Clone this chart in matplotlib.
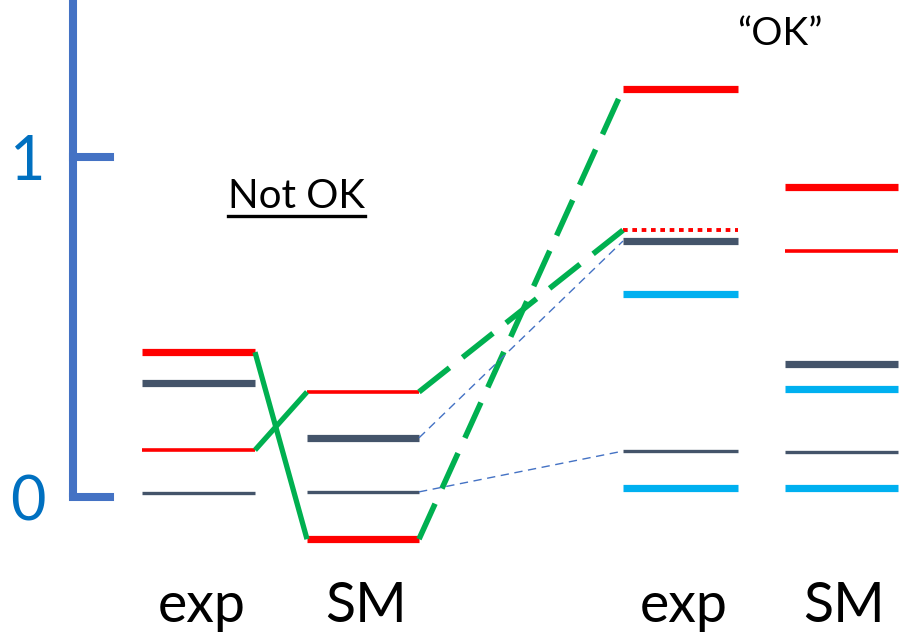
import matplotlib
matplotlib.use("Agg")
import matplotlib.pyplot as plt
from matplotlib.lines import Line2D

plt.rcParams['font.family'] = ['Lato', 'DejaVu Sans']

# level energies for each column (same unit as the axis: 0 and 1)
exp_a = [0.426, 0.335, 0.138, 0.012]
kind_exp_a = ['red_thick', 'grey_thick', 'red_thin', 'grey_thin']
sm_a = [0.309, 0.174, 0.015, -0.124]
kind_sm_a = ['red_thin', 'grey_thick', 'grey_thin', 'red_thick']
exp_b = [1.200, 0.785, 0.753, 0.597, 0.135, 0.026]
kind_exp_b = ['red_thick', 'red_dot', 'grey_thick', 'cyan', 'grey_thin', 'cyan']
sm_b = [0.912, 0.724, 0.391, 0.318, 0.132, 0.026]
kind_sm_b = ['red_thick', 'red_thin', 'grey_thick', 'cyan', 'grey_thin', 'cyan']

col_names = ['exp', 'SM', 'exp', 'SM']
col_levels = [exp_a, sm_a, exp_b, sm_b]
col_kinds = [kind_exp_a, kind_sm_a, kind_exp_b, kind_sm_b]
col_span = [(142, 255), (307, 419), (623, 738), (785, 898)]

# links: (column, level, column, level, style)
links = [
    (0, 0, 1, 3, 'green'),
    (0, 2, 1, 0, 'green'),
    (1, 0, 2, 1, 'green_dash'),
    (1, 3, 2, 0, 'green_dash'),
    (1, 1, 2, 2, 'blue_dash'),
    (1, 2, 2, 4, 'blue_dash'),
]

ticks = [0, 1]

RED, GREY, CYAN = '#FF0000', '#44546A', '#00B0F0'
GREEN, BLUE, TXTBLUE = '#00B050', '#4472C4', '#0070C0'
styles = {
    'red_thick': dict(color=RED, lw=5.2),
    'red_thin': dict(color=RED, lw=2.6),
    'red_dot': dict(color=RED, lw=2.8, dashes=(1.2, 1.2)),
    'grey_thick': dict(color=GREY, lw=5.2),
    'grey_thin': dict(color=GREY, lw=2.4),
    'cyan': dict(color=CYAN, lw=5.2),
    'green': dict(color=GREEN, lw=3.8),
    'green_dash': dict(color=GREEN, lw=4.0, dashes=(7.0, 3.0)),
    'blue_dash': dict(color=BLUE, lw=1.0, dashes=(6, 4)),
}

fig = plt.figure(figsize=(9.05, 6.35), dpi=100)
ax = fig.add_axes([0, 0, 1, 1])
ax.set_xlim(0, 905)
ax.set_ylim(-0.406, 1.462)
ax.axis('off')

# energy axis with its two ticks
ax.plot([73, 73], [1.462, 0], color=BLUE, lw=5.8, solid_capstyle='butt')
for t in ticks:
    ax.plot([73, 110], [t, t], color=BLUE, lw=5.8, solid_capstyle='projecting')
    ax.annotate(str(t), (28, t), xytext=(0, -4), textcoords='offset points',
                ha='center', va='center', fontsize=44, color=TXTBLUE)

# level bars
for (x0, x1), levels, kinds, name in zip(col_span, col_levels, col_kinds, col_names):
    for e, k in zip(levels, kinds):
        ax.plot([x0, x1], [e, e], solid_capstyle='butt', dash_capstyle='butt', **styles[k])
    ax.text((x0 + x1) / 2 + 3, -0.368, name, ha='center', va='baseline', fontsize=40)

# correspondence lines between columns
for c0, i0, c1, i1, s in links:
    xa = col_span[c0][1]
    xb = col_span[c1][0]
    ax.plot([xa, xb], [col_levels[c0][i0], col_levels[c1][i1]],
            solid_capstyle='butt', dash_capstyle='butt', **styles[s])

not_ok = ax.text(296, 0.85, 'Not OK', ha='center', va='baseline', fontsize=29)
ax.text(780, 1.329, '\u201cOK\u201d', ha='center', va='baseline', fontsize=28)

# underline under "Not OK"
fig.canvas.draw()
bb = not_ok.get_window_extent()
uy = bb.y0 - 1
fig.add_artist(Line2D([bb.x0, bb.x1], [uy, uy], transform=None, color='black', lw=2.4))

fig.savefig('out.png', dpi=100)
